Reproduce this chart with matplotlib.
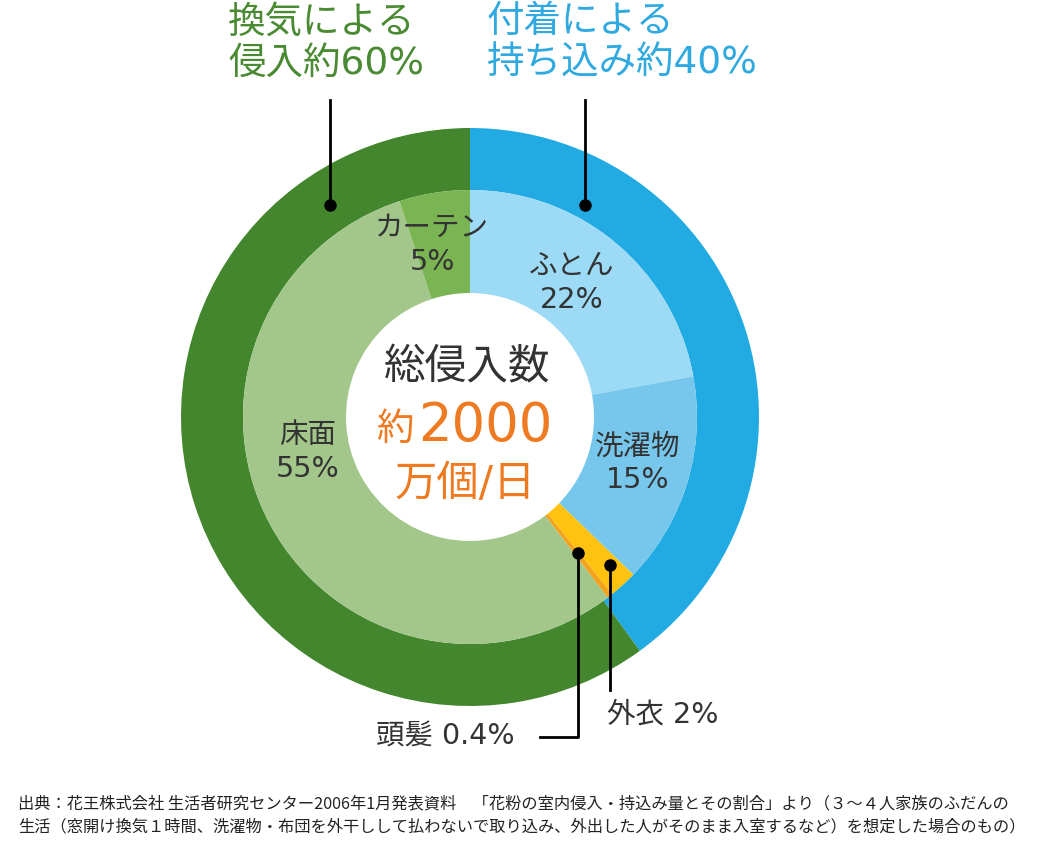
import matplotlib
matplotlib.use("Agg")
import matplotlib.pyplot as plt

plt.rcParams['font.family'] = ['DejaVu Sans', 'Noto Sans CJK JP']

# ---- data ----
outer_labels = ["付着による持ち込み", "換気による侵入"]
outer_values = [40, 60]
inner_labels = ["ふとん", "洗濯物", "外衣", "頭髪", "床面", "カーテン"]
inner_values = [22, 15, 2, 0.4, 55, 5]

outer_colors = ["#22ABE2", "#43862D"]
inner_colors = ["#9CDAF5", "#77C7EC", "#FFC30F", "#F2A31B", "#A3C78A", "#7BB553"]

W, H = 1040, 847
fig = plt.figure(figsize=(W / 100, H / 100), dpi=100)
ax = fig.add_axes([0, 0, 1, 1])

def Y(y):
    return H - y

cx, cy = 470, Y(417)
R_out, R_mid, R_in = 289, 227, 124

ax.pie(outer_values, radius=R_out, center=(cx, cy), startangle=90,
       counterclock=False, colors=outer_colors,
       wedgeprops=dict(width=R_out - R_mid, linewidth=0))
ax.pie(inner_values, radius=R_mid, center=(cx, cy), startangle=90,
       counterclock=False, colors=inner_colors,
       wedgeprops=dict(width=R_mid - R_in, linewidth=0))

ax.set_xlim(0, W)
ax.set_ylim(0, H)
ax.set_aspect('equal')
ax.axis('off')

dark = "#333333"
green_t = "#4A8A33"
blue_t = "#2FA9DF"
orange_t = "#EE7B22"

# top headings
ax.text(228, Y(43), "換気による\n侵入約60%", color=green_t, fontsize=27,
        ha='left', va='center', linespacing=1.18)
ax.text(487, Y(43), "付着による\n持ち込み約40%", color=blue_t, fontsize=27,
        ha='left', va='center', linespacing=1.18)

# leader lines top
ax.plot([330, 330], [Y(100), Y(205)], color='black', lw=2)
ax.plot([330], [Y(205)], 'o', color='black', ms=8)
ax.plot([585, 585], [Y(100), Y(205)], color='black', lw=2)
ax.plot([585], [Y(205)], 'o', color='black', ms=8)

# inner labels
lab_fs = 20.5
ax.text(432, Y(245), "カーテン\n5%", color=dark, fontsize=lab_fs,
        ha='center', va='center', linespacing=1.25)
ax.text(572, Y(283), "ふとん\n22%", color=dark, fontsize=lab_fs,
        ha='center', va='center', linespacing=1.25)
ax.text(638, Y(463), "洗濯物\n15%", color=dark, fontsize=lab_fs,
        ha='center', va='center', linespacing=1.25)
ax.text(308, Y(452), "床面\n55%", color=dark, fontsize=lab_fs,
        ha='center', va='center', linespacing=1.25)

# centre
ax.text(467, Y(367), "総侵入数", color=dark, fontsize=30,
        ha='center', va='center')
ax.text(414, Y(430), "約", color=orange_t, fontsize=27,
        ha='right', va='center')
ax.text(485, Y(426), "2000", color=orange_t, fontsize=38,
        ha='center', va='center')
ax.text(465, Y(484), "万個/日", color=orange_t, fontsize=30.5,
        ha='center', va='center')

# bottom leaders
ax.plot([610, 610], [Y(565), Y(690)], color='black', lw=2)
ax.plot([610], [Y(565)], 'o', color='black', ms=8)
ax.plot([578, 578, 540], [Y(553), Y(737), Y(737)], color='black', lw=2)
ax.plot([578], [Y(553)], 'o', color='black', ms=8)

ax.text(607, Y(714), "外衣 2%", color=dark, fontsize=20.5,
        ha='left', va='center')
ax.text(376, Y(737), "頭髪 0.4%", color=dark, fontsize=20.5,
        ha='left', va='center')

# source
src_font = ['Noto Sans CJK JP']
ax.text(18, Y(804), "出典：花王株式会社 生活者研究センター2006年1月発表資料　「花粉の室内侵入・持込み量とその割合」より（３～４人家族のふだんの",
        color="#222222", fontsize=11.7, ha='left', va='center', family=src_font)
ax.text(18, Y(827), "生活（窓開け換気１時間、洗濯物・布団を外干しして払わないで取り込み、外出した人がそのまま入室するなど）を想定した場合のもの）",
        color="#222222", fontsize=11.7, ha='left', va='center', family=src_font)

fig.savefig("out.png", dpi=100)
